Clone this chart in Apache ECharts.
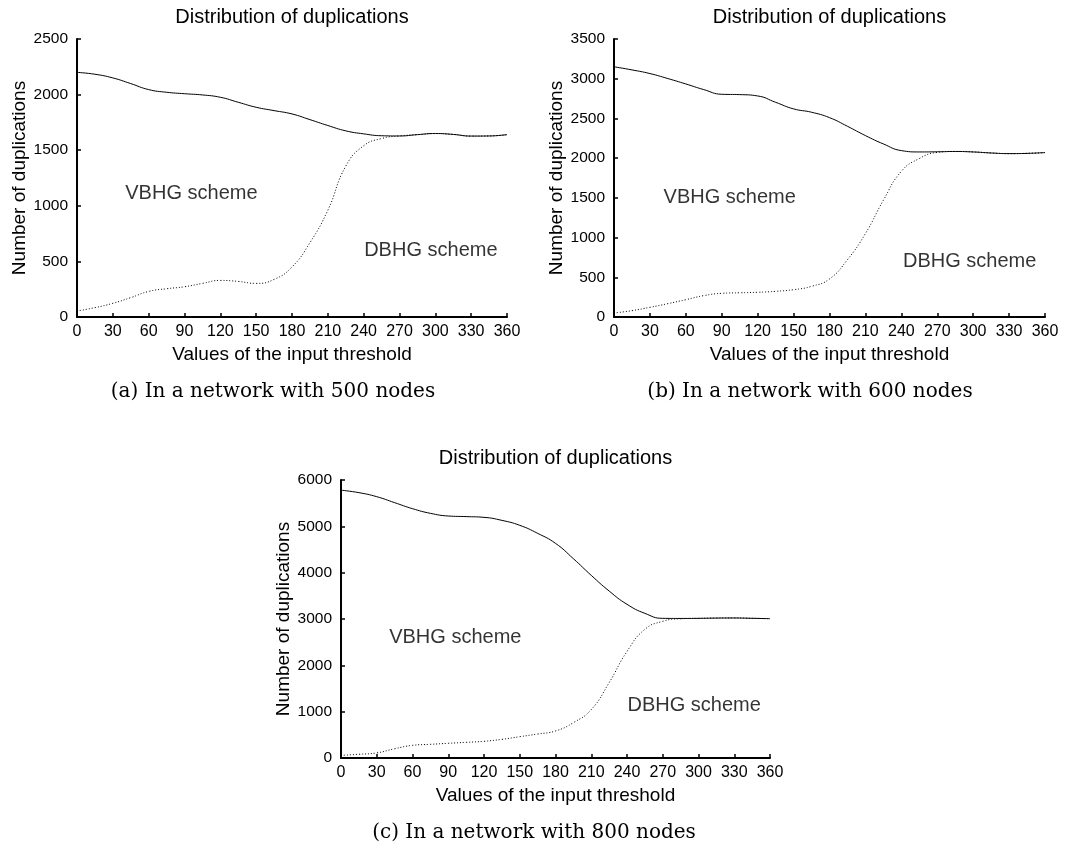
<!DOCTYPE html>
<html>
<head>
<meta charset="utf-8">
<script src="https://cdn.jsdelivr.net/npm/echarts@6/dist/echarts.min.js"></script>
<style>
html,body{margin:0;padding:0;background:#fff;}
#c{width:1067px;height:848px;}
</style>
</head>
<body>
<div id="c"></div>
<script>
// ---- data (every 15 units of the threshold) ----
const thresholds = [0, 15, 30, 45, 60, 75, 90, 105, 120, 135, 150, 165, 180,
                    195, 210, 225, 240, 255, 270, 285, 300, 315, 330, 345, 360];

const vbhg500 = [2200, 2183, 2150, 2099, 2045, 2021, 2008, 1997, 1976, 1931, 1886, 1856, 1826,
                 1775, 1722, 1674, 1647, 1630, 1628, 1640, 1650, 1642, 1627, 1628, 1640];
const dbhg500 = [54, 84, 123, 174, 230, 254, 272, 302, 329, 320, 302, 338, 450,
                 668, 960, 1356, 1540, 1605, 1628, 1640, 1650, 1642, 1627, 1628, 1640];

const vbhg600 = [3150, 3111, 3065, 3002, 2934, 2863, 2804, 2800, 2783, 2703, 2620, 2578, 2510,
                 2401, 2284, 2179, 2095, 2078, 2080, 2084, 2078, 2065, 2057, 2060, 2070];
const dbhg600 = [50, 80, 122, 168, 218, 269, 298, 305, 311, 323, 344, 386, 479,
                 722, 1050, 1470, 1834, 1995, 2072, 2084, 2078, 2065, 2057, 2060, 2070];

const vbhg800 = [5780, 5727, 5640, 5511, 5381, 5281, 5223, 5210, 5194, 5129, 5022, 4849, 4633,
                 4302, 3942, 3604, 3317, 3122, 3014, 3012, 3014, 3020, 3022, 3015, 3007];
const dbhg800 = [58, 80, 110, 200, 273, 295, 317, 338, 360, 403, 460, 518, 583,
                 763, 1045, 1626, 2300, 2777, 2950, 3005, 3014, 3020, 3022, 3015, 3007];

const yMaxes = [2500, 3500, 6000];
const yIntervals = [500, 500, 1000];
const chartTitle = 'Distribution of duplications';
const xName = 'Values of the input threshold';
const yName = 'Number of duplications';
const seriesNames = ['VBHG scheme', 'DBHG scheme'];
const captions = ['(a) In a network with 500 nodes', '(b) In a network with 600 nodes', '(c) In a network with 800 nodes'];

// ---- layout ----
const FONT = "'Liberation Sans', Arial, Helvetica, sans-serif";
const SERIF = "'DejaVu Serif', 'Liberation Serif', serif";
const grids = [
  {left: 77, top: 39, width: 430, height: 278},
  {left: 614, top: 39, width: 431, height: 278},
  {left: 341, top: 480, width: 429, height: 278}
];
// label anchors in data coordinates [x, y] for VBHG / DBHG text
const labelAnchors = [
  [[40, 1115], [240, 594]],
  [[41, 1507], [241, 701]],
  [[40, 2604], [240, 1144]]
];
const captionPos = [[273, 392], [810, 392], [534, 833]];

const pairs = (ys) => thresholds.map((x, i) => [x, ys[i]]);
const vSeries = [vbhg500, vbhg600, vbhg800];
const dSeries = [dbhg500, dbhg600, dbhg800];

const xAxes = [], yAxes = [], series = [], graphics = [];
grids.forEach((g, i) => {
  xAxes.push({
    gridIndex: i, type: 'value', min: 0, max: 360, interval: 30,
    name: xName, nameLocation: 'middle', nameGap: 28,
    nameTextStyle: {fontSize: 19, color: '#000', fontFamily: FONT},
    axisLine: {onZero: false, lineStyle: {color: '#000', width: 2}},
    axisTick: {inside: true, length: 4, lineStyle: {color: '#000', width: 1.5}},
    axisLabel: {fontSize: 16, color: '#000', margin: 7, fontFamily: FONT,
                formatter: (v) => String(v)},
    splitLine: {show: false}
  });
  yAxes.push({
    gridIndex: i, type: 'value', min: 0, max: yMaxes[i], interval: yIntervals[i],
    name: yName, nameLocation: 'middle', nameGap: 48,
    nameTextStyle: {fontSize: 19, color: '#000', fontFamily: FONT},
    axisLine: {show: true, onZero: false, lineStyle: {color: '#000', width: 2}},
    axisTick: {show: true, inside: true, length: 4, lineStyle: {color: '#000', width: 1.5}},
    axisLabel: {fontSize: 15.5, color: '#000', margin: 9, fontFamily: FONT,
                formatter: (v) => String(v)},
    splitLine: {show: false}
  });
  series.push({
    type: 'line', name: seriesNames[0], xAxisIndex: i, yAxisIndex: i,
    data: pairs(vSeries[i]), smooth: true, showSymbol: false, silent: true,
    lineStyle: {color: '#000', width: 1, type: 'solid'}
  });
  series.push({
    type: 'line', name: seriesNames[1], xAxisIndex: i, yAxisIndex: i,
    data: pairs(dSeries[i]), smooth: true, showSymbol: false, silent: true,
    lineStyle: {color: '#000', width: 1, type: [1, 2]}
  });
  series.push({
    type: 'scatter', xAxisIndex: i, yAxisIndex: i, symbolSize: 1, silent: true,
    itemStyle: {color: 'rgba(0,0,0,0)'},
    data: labelAnchors[i].map((a, k) => ({name: seriesNames[k], value: a})),
    label: {show: true, formatter: '{b}', position: 'right', distance: 0,
            fontSize: 20, color: '#000', fontFamily: FONT}
  });
  graphics.push({
    type: 'text', x: g.left + g.width / 2, y: g.top - 22, silent: true,
    style: {text: chartTitle, fontSize: 20, fontFamily: FONT, fill: '#000',
            align: 'center', verticalAlign: 'middle'}
  });
  graphics.push({
    type: 'text', x: captionPos[i][0], y: captionPos[i][1], silent: true,
    style: {text: captions[i], fontSize: 20, fontFamily: SERIF, fill: '#000',
            align: 'center', verticalAlign: 'middle'}
  });
});

const chart = echarts.init(document.getElementById('c'));
chart.setOption({
  animation: false,
  backgroundColor: '#fff',
  grid: grids,
  xAxis: xAxes,
  yAxis: yAxes,
  series: series,
  graphic: graphics
});
</script>
</body>
</html>
